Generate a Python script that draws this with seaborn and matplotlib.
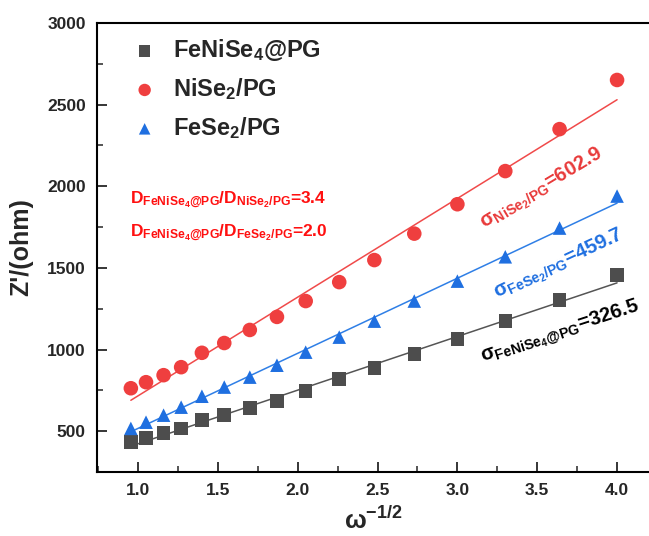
import numpy as np
import pandas as pd
import matplotlib
matplotlib.use("Agg")
import matplotlib.pyplot as plt
from matplotlib.ticker import AutoMinorLocator, FixedLocator
import seaborn as sns

# ---- data ----
x_vals = [0.955, 1.05, 1.16, 1.27, 1.40, 1.54, 1.70, 1.87,
          2.05, 2.26, 2.48, 2.73, 3.00, 3.30, 3.64, 4.00]
fenise4 = [435, 459, 490, 517, 567, 598, 641, 686,
           745, 819, 886, 972, 1064, 1174, 1303, 1456]
nise2 = [763, 800, 843, 892, 980, 1040, 1120, 1200,
         1297, 1413, 1548, 1710, 1890, 2093, 2350, 2651]
fese2 = [517, 555, 598, 647, 714, 770, 831, 904,
         984, 1076, 1174, 1297, 1419, 1568, 1744, 1940]

series_names = ["FeNiSe$_{4}$@PG", "NiSe$_{2}$/PG", "FeSe$_{2}$/PG"]
series_vals = [fenise4, nise2, fese2]
marker_colors = ["#4d4d4d", "#ef3f3f", "#1f6fe0"]
line_colors = ["#555555", "#f04a4a", "#2f7fe6"]
markers = ["s", "o", "^"]

x_ticks = [1.0, 1.5, 2.0, 2.5, 3.0, 3.5, 4.0]
y_ticks = [500, 1000, 1500, 2000, 2500, 3000]

sigma_labels = ["σ$_{\\mathrm{FeNiSe_4@PG}}$=326.5",
                "σ$_{\\mathrm{NiSe_2/PG}}$=602.9",
                "σ$_{\\mathrm{FeSe_2/PG}}$=459.7"]
d_labels = ["D$_{\\mathrm{FeNiSe_4@PG}}$/D$_{\\mathrm{NiSe_2/PG}}$=3.4",
            "D$_{\\mathrm{FeNiSe_4@PG}}$/D$_{\\mathrm{FeSe_2/PG}}$=2.0"]

sns.set_theme(style="ticks")
plt.rcParams["font.family"] = ["Liberation Sans", "DejaVu Sans"]
plt.rcParams["font.weight"] = "bold"
plt.rcParams["mathtext.fontset"] = "custom"
plt.rcParams["mathtext.rm"] = "Liberation Sans:bold"
plt.rcParams["mathtext.it"] = "Liberation Sans:bold"
plt.rcParams["mathtext.bf"] = "Liberation Sans:bold"
plt.rcParams["mathtext.sf"] = "Liberation Sans:bold"

fig = plt.figure(figsize=(6.49, 5.36), dpi=100)
ax = fig.add_axes([97 / 649, 64 / 536, 1 - 97 / 649, 449 / 536])

for name, vals, mc, lc, mk in zip(series_names, series_vals, marker_colors, line_colors, markers):
    df = pd.DataFrame({"x": x_vals, "y": vals})
    sns.regplot(data=df, x="x", y="y", ax=ax, scatter=False, ci=None,
                color=lc, line_kws={"lw": 1.1})
    sns.scatterplot(data=df, x="x", y="y", ax=ax, marker=mk, color=mc,
                    s=95 if mk != "o" else 110, edgecolor="none", label=name, zorder=3)

ax.set_xlim(0.743, 4.2)
ax.set_ylim(250, 3000)
ax.xaxis.set_major_locator(FixedLocator(x_ticks))
ax.yaxis.set_major_locator(FixedLocator(y_ticks))
ax.xaxis.set_minor_locator(AutoMinorLocator(2))
ax.yaxis.set_minor_locator(AutoMinorLocator(2))
ax.set_xticklabels([f"{v:.1f}" for v in x_ticks], fontsize=12.5, fontweight="bold")
ax.set_yticklabels([str(v) for v in y_ticks], fontsize=12.5, fontweight="bold")
ax.tick_params(which="major", direction="in", length=7, width=1.3, pad=8,
               top=False, right=False)
ax.tick_params(which="minor", direction="in", length=4, width=1.1,
               top=False, right=False)
for side in ["left", "bottom", "top"]:
    ax.spines[side].set_linewidth(1.5)
    ax.spines[side].set_color("black")
ax.spines["right"].set_visible(False)

ax.set_xlabel("ω$^{\\mathbf{-1/2}}$", fontsize=18.5, fontweight="bold", labelpad=6)
ax.set_ylabel("Z'/(ohm)", fontsize=18, fontweight="bold", labelpad=10)

leg = ax.legend(loc="upper left", bbox_to_anchor=(0.035, 1.0), frameon=False,
                fontsize=17, handlelength=1.2, handletextpad=0.6, labelspacing=0.55,
                markerscale=0.85, borderaxespad=0.2)
for t in leg.get_texts():
    t.set_fontweight("bold")

# sigma annotations
ax.text(3.16, 923, sigma_labels[0], color="black", fontsize=14.5, fontweight="bold",
        rotation=18, rotation_mode="anchor", ha="left", va="baseline")
ax.text(3.17, 1744, sigma_labels[1], color="#e83a3a", fontsize=14.5, fontweight="bold",
        rotation=31, rotation_mode="anchor", ha="left", va="baseline")
ax.text(3.245, 1315, sigma_labels[2], color="#1f6fe0", fontsize=14.5, fontweight="bold",
        rotation=25, rotation_mode="anchor", ha="left", va="baseline")

ax.text(0.95, 1915, d_labels[0], color="#ff1010", fontsize=12.5, fontweight="bold",
        ha="left", va="center")
ax.text(0.95, 1713, d_labels[1], color="#ff1010", fontsize=12.5, fontweight="bold",
        ha="left", va="center")

fig.savefig("out.png", dpi=100)
